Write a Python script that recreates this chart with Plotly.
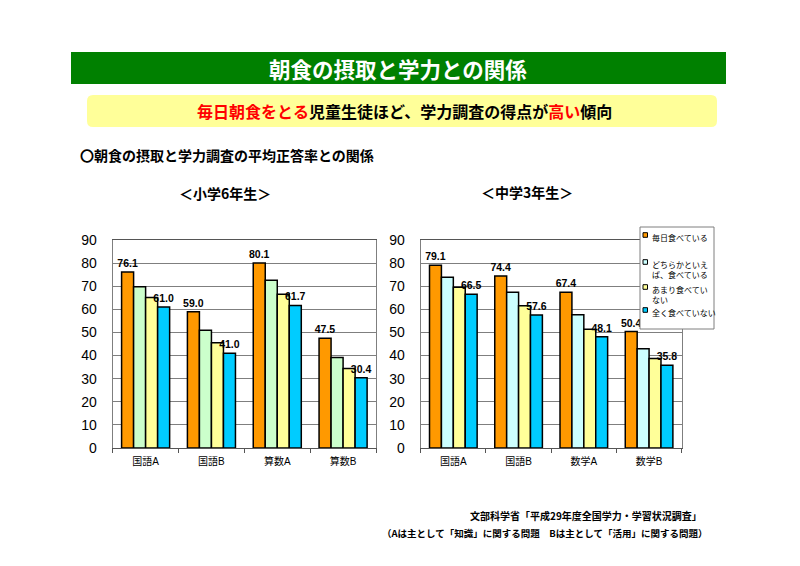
import plotly.graph_objects as go

W, H = 800, 566

# ---------------- data ----------------
series_names = ["毎日食べている", "どちらかといえ<br>ば、食べている", "あまり食べてい<br>ない", "全く食べていない"]
elem_categories = ["国語A", "国語B", "算数A", "算数B"]
junior_categories = ["国語A", "国語B", "数学A", "数学B"]

elem_daily = [76.1, 59.0, 80.1, 47.5]
elem_mostly = [69.8, 51.0, 72.6, 39.2]
elem_rarely = [65.1, 45.5, 66.5, 34.4]
elem_never = [61.0, 41.0, 61.7, 30.4]

junior_daily = [79.1, 74.4, 67.4, 50.4]
junior_mostly = [73.9, 67.4, 57.7, 42.9]
junior_rarely = [69.6, 61.6, 51.4, 38.7]
junior_never = [66.5, 57.6, 48.1, 35.8]

y_ticks = [0, 10, 20, 30, 40, 50, 60, 70, 80, 90]

# ---------------- styling ----------------
elem_colors = ["#FF9900", "#CCFFCC", "#FFFF99", "#00CCFF"]
junior_colors = ["#FF9900", "#CCFFFF", "#FFFF99", "#00CCFF"]
labelled = [True, False, False, True]

NUM_FONT = "Liberation Sans, Arial, Noto Sans CJK JP, sans-serif"
JP_FONT = "Noto Sans CJK JP, sans-serif"


def px_x(x):
    return x / W


def px_y(y):
    return 1 - y / H


fig = go.Figure()

elem_sets = [elem_daily, elem_mostly, elem_rarely, elem_never]
junior_sets = [junior_daily, junior_mostly, junior_rarely, junior_never]


def add_bars(cats, sets, colors, xa, ya):
    for i, vals in enumerate(sets):
        fig.add_trace(go.Bar(
            x=cats, y=vals, name=series_names[i].replace("<br>", ""),
            marker=dict(color=colors[i], line=dict(color="black", width=1.5)),
            text=[f"<b>{v:.1f}</b>" for v in vals] if labelled[i] else None,
            textposition="outside" if labelled[i] else "none",
            textfont=dict(family=NUM_FONT, size=10.5, color="black"),
            constraintext="none", cliponaxis=False,
            showlegend=False, xaxis=xa, yaxis=ya, hoverinfo="skip",
        ))


add_bars(elem_categories, elem_sets, elem_colors, "x", "y")
add_bars(junior_categories, junior_sets, junior_colors, "x2", "y2")

ydom = [px_y(448), px_y(240)]

yaxis_common = dict(
    range=[0, 90], tickvals=y_ticks, showgrid=True, gridcolor="#7F7F7F", gridwidth=1,
    showline=True, linecolor="#7F7F7F", linewidth=1, mirror=True,
    tickfont=dict(family=NUM_FONT, size=14, color="black"),
    ticks="", ticklabelstandoff=12, zeroline=False, domain=ydom, fixedrange=True,
    automargin=False,
)
xaxis_common = dict(
    showline=True, linecolor="#555555", linewidth=1, mirror=True,
    ticks="outside", tickson="boundaries", ticklen=4, tickcolor="#555555",
    tickfont=dict(family=NUM_FONT, size=10, color="black"),
    ticklabelstandoff=4, fixedrange=True, automargin=False,
)

fig.update_layout(
    width=W, height=H, margin=dict(l=0, r=0, t=0, b=0, autoexpand=False),
    paper_bgcolor="white", plot_bgcolor="white",
    barmode="group", bargap=0.27, bargroupgap=0,
    xaxis=dict(domain=[px_x(112.7), px_x(376)], anchor="y", **xaxis_common),
    yaxis=dict(anchor="x", **yaxis_common),
    xaxis2=dict(domain=[px_x(420.7), px_x(681.7)], anchor="y2", **xaxis_common),
    yaxis2=dict(anchor="x2", **yaxis_common),
    showlegend=False,
    font=dict(family=JP_FONT),
)

# title bar
fig.add_shape(type="rect", xref="paper", yref="paper",
              x0=px_x(71), x1=px_x(726), y0=px_y(84), y1=px_y(52),
              fillcolor="#008000", line=dict(width=0), layer="below")
# rounded yellow box
x0, x1, y0, y1, r = 87, 717, 95, 127, 6
path = (f"M {px_x(x0 + r)} {px_y(y0)} L {px_x(x1 - r)} {px_y(y0)} "
        f"Q {px_x(x1)} {px_y(y0)} {px_x(x1)} {px_y(y0 + r)} "
        f"L {px_x(x1)} {px_y(y1 - r)} Q {px_x(x1)} {px_y(y1)} {px_x(x1 - r)} {px_y(y1)} "
        f"L {px_x(x0 + r)} {px_y(y1)} Q {px_x(x0)} {px_y(y1)} {px_x(x0)} {px_y(y1 - r)} "
        f"L {px_x(x0)} {px_y(y0 + r)} Q {px_x(x0)} {px_y(y0)} {px_x(x0 + r)} {px_y(y0)} Z")
fig.add_shape(type="path", xref="paper", yref="paper", path=path,
              fillcolor="#FFFF99", line=dict(width=0), layer="below")


def ann(text, x, y, size, color="black", bold=True, xanchor="center", family=JP_FONT):
    t = f"<b>{text}</b>" if bold else text
    fig.add_annotation(text=t, x=px_x(x), y=px_y(y), xref="paper", yref="paper",
                       xanchor=xanchor, yanchor="middle", showarrow=False,
                       font=dict(family=family, size=size, color=color))


ann("朝食の摂取と学力との関係", 398, 69, 21.5, color="white", bold=True)
ann("<span style='color:#FF0000'>毎日朝食をとる</span>児童生徒ほど、学力調査の得点が"
    "<span style='color:#FF0000'>高い</span>傾向", 404, 111, 16)
ann("〇朝食の摂取と学力調査の平均正答率との関係", 78, 155, 14, xanchor="left")
ann("＜小学6年生＞", 225, 193, 14)
ann("＜中学3年生＞", 527, 192, 14)
ann("文部科学省「平成29年度全国学力・学習状況調査」", 704, 515, 10, xanchor="right")
ann("（Aは主として「知識」に関する問題　Bは主として「活用」に関する問題）", 710, 533, 9.5, xanchor="right")

# legend box (right chart)
lg_x0, lg_x1, lg_y0, lg_y1 = 640, 714, 227, 329
fig.add_shape(type="rect", xref="paper", yref="paper",
              x0=px_x(lg_x0), x1=px_x(lg_x1), y0=px_y(lg_y1), y1=px_y(lg_y0),
              fillcolor="white", line=dict(color="#7F7F7F", width=1), layer="above")
legend_rows = [235, 262, 287, 310]
for i, name in enumerate(series_names):
    yc = legend_rows[i]
    fig.add_shape(type="rect", xref="paper", yref="paper",
                  x0=px_x(643), x1=px_x(647.5), y0=px_y(yc + 2.3), y1=px_y(yc - 2.3),
                  fillcolor=junior_colors[i], line=dict(color="black", width=1), layer="above")
    fig.add_annotation(text=name, x=px_x(649.5), y=px_y(yc - 5), xref="paper", yref="paper",
                       xanchor="left", yanchor="top", showarrow=False, align="left",
                       font=dict(family=JP_FONT, size=8, color="black"))

fig.write_html("out.html", config={"displayModeBar": False},
               post_script="document.body.style.margin='0';document.body.style.overflow='hidden';")
